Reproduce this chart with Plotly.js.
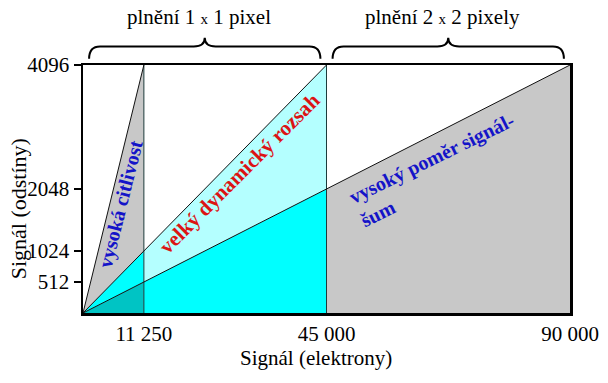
<!DOCTYPE html>
<html><head><meta charset="utf-8">
<script src="https://cdn.plot.ly/plotly-3.0.1.min.js"></script>
<style>html,body{margin:0;padding:0;background:#fff}#chart{width:608px;height:383px}</style>
</head><body><div id="chart"></div>
<script>
// ---- data ----
const fullWellElectrons = [11250, 45000, 90000];   // signal (e-) reaching max level for each mode
const maxLevel = 4096;                              // max signal level (odstíny)
const xTickVals = [11250, 45000, 90000];
const xTickText = ['11 250', '45 000', '90 000'];
const yTickVals = [512, 1024, 2048, 4096];
const yTickText = ['512', '1024', '2048', '4096'];
const binRanges = [[0, 45000], [45000, 90000]];
const binLabels = ['plnění 1 <span style="font-size:15px">x</span> 1 pixel', 'plnění 2 <span style="font-size:15px">x</span> 2 pixely'];
const regionLabels = ['vysoká citlivost', 'velký dynamický rozsah', 'vysoký poměr signál-<br>šum'];

// ---- helpers ----
const lvl = (i, x) => maxLevel * x / fullWellElectrons[i];
const [a, b, c] = fullWellElectrons;
const serif = "'Liberation Serif', 'Times New Roman', serif";

function poly(xs, ys, color) {
  return {type: 'scatter', mode: 'lines', x: xs.concat([xs[0]]), y: ys.concat([ys[0]]),
    fill: 'toself', fillcolor: color, line: {width: 0, color: color}, hoverinfo: 'skip', showlegend: false};
}
function seg(xs, ys, color, w) {
  return {type: 'scatter', mode: 'lines', x: xs, y: ys, line: {color: color, width: w}, hoverinfo: 'skip', showlegend: false};
}

const traces = [
  poly([0, a, a], [0, lvl(0, a), lvl(1, a)], '#c8c8c8'),
  poly([0, a, a], [0, lvl(1, a), lvl(2, a)], '#00ffff'),
  poly([0, a, a], [0, lvl(2, a), 0], '#00c4c4'),
  poly([a, b, b, a], [lvl(1, a), lvl(1, b), lvl(2, b), lvl(2, a)], '#b4ffff'),
  poly([a, b, b, a], [lvl(2, a), lvl(2, b), 0, 0], '#00ffff'),
  poly([b, c, c, b], [lvl(2, b), lvl(2, c), 0, 0], '#c8c8c8'),
  seg([a, a], [0, maxLevel], '#1d3b3b', 1),
  seg([b, b], [0, maxLevel], '#1d3b3b', 1),
  seg([0, a], [0, lvl(0, a)], '#111', 1),
  seg([0, b], [0, lvl(1, b)], '#111', 1),
  seg([0, c], [0, lvl(2, c)], '#111', 1)
];

// braces
function bracePath(x0, x1) {
  const span = x1 - x0, ins = span * 0.025, dx = span * 0.045;
  const L = x0 + ins, R = x1 - ins, M = (x0 + x1) / 2;
  const yE = 1.025, yH = 1.075, yT = 1.11;
  return `M ${L},${yE} Q ${L},${yH} ${L + dx},${yH} L ${M - dx},${yH} Q ${M},${yH} ${M},${yT} ` +
         `Q ${M},${yH} ${M + dx},${yH} L ${R - dx},${yH} Q ${R},${yH} ${R},${yE}`;
}
const shapes = binRanges.map(r => ({type: 'path', xref: 'x', yref: 'paper', path: bracePath(r[0], r[1]),
  line: {color: '#000', width: 2}}));

const C = {xanchor: 'center', yanchor: 'middle', showarrow: false};
const annotations = [
  ...binRanges.map((r, i) => ({...C, xref: 'x', yref: 'paper', x: (r[0] + r[1]) / 2 - 1000, y: 1.195, text: binLabels[i],
    font: {family: serif, size: 21, color: '#000'}})),
  {...C, x: 6900, y: 1800, text: '<b>' + regionLabels[0] + '</b>', textangle: -76,
    font: {family: serif, size: 20, color: '#1414c8'}},
  {...C, x: 29000, y: 2312, text: '<b>' + regionLabels[1] + '</b>', textangle: -45,
    font: {family: serif, size: 21, color: '#dc1414'}},
  {...C, x: 65500, y: 2362, text: '<b>' + regionLabels[2] + '</b>', textangle: -26, align: 'left',
    font: {family: serif, size: 20, color: '#1414c8'}},
  {...C, xref: 'paper', yref: 'paper', x: 0.478, y: -0.18, text: 'Signál (elektrony)',
    font: {family: serif, size: 21, color: '#000'}},
  {...C, xref: 'paper', yref: 'paper', x: -0.133, y: 0.419, text: 'Signál (odstíny)', textangle: -90,
    font: {family: serif, size: 22, color: '#000'}}
];

const layout = {
  width: 608, height: 383,
  margin: {l: 83, r: 38, t: 65, b: 70},
  paper_bgcolor: '#fff', plot_bgcolor: '#fff',
  showlegend: false,
  font: {family: serif, size: 21, color: '#000'},
  xaxis: {range: [0, 90000], showgrid: false, zeroline: false, tickvals: xTickVals, ticktext: xTickText,
    ticks: '', showline: true, mirror: true, linewidth: 2.5, linecolor: '#000',
    tickfont: {family: serif, size: 21, color: '#000'}},
  yaxis: {range: [0, maxLevel], showgrid: false, zeroline: false, tickvals: yTickVals, ticktext: yTickText,
    ticks: 'outside', ticklen: 7, tickwidth: 2, tickcolor: '#000', showline: true, mirror: true, linewidth: 2.5, linecolor: '#000',
    tickfont: {family: serif, size: 21, color: '#000'}},
  shapes: shapes,
  annotations: annotations
};

Plotly.newPlot('chart', traces, layout, {staticPlot: true, displayModeBar: false});
</script></body></html>
